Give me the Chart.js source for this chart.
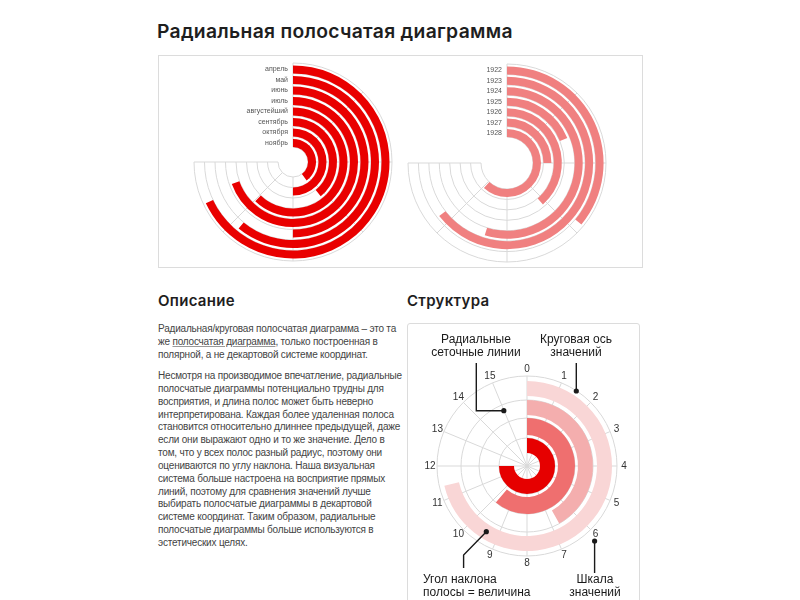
<!DOCTYPE html>
<html lang="ru">
<head>
<meta charset="utf-8">
<title>Радиальная полосчатая диаграмма</title>
<script src="https://cdn.jsdelivr.net/npm/chart.js@4.4.1/dist/chart.umd.min.js"></script>
<style>
  html, body { margin: 0; padding: 0; background: #fff; }
  body { position: relative; width: 800px; height: 600px; overflow: hidden;
         font-family: 'Liberation Sans', Arial, sans-serif; color: #444; }
  h1, h2 { position: absolute; margin: 0; font-family: Inter, 'Noto Sans', sans-serif;
           font-weight: 600; color: #1e1e1e; white-space: nowrap; }
  h1 { left: 157px; top: 18px; font-size: 19.3px; line-height: 26px; letter-spacing: .3px; }
  h2 { top: 292px; font-size: 15px; line-height: 18px; letter-spacing: .3px; }
  .panel { position: absolute; box-sizing: border-box; border: 1px solid #dcdcdc; }
  #topPanel { left: 158px; top: 55px; width: 485px; height: 213px; }
  #structPanel { left: 407px; top: 323px; width: 233px; height: 290px; border-radius: 3px; }
  canvas { position: absolute; }
  .txt { position: absolute; left: 158px; font-size: 10px; letter-spacing: -0.2px; line-height: 12.85px; white-space: nowrap; }
  .txt a { color: #444; text-decoration: underline; text-decoration-color: #999; }
  .note { position: absolute; font-size: 12px; line-height: 12.7px; color: #1a1a1a; white-space: nowrap; }
  .note.c { width: 140px; text-align: center; }
</style>
</head>
<body>
<h1>Радиальная полосчатая диаграмма</h1>
<div class="panel" id="topPanel"></div>
<canvas id="monthsChart" width="206" height="206" style="left:190px;top:59px"></canvas>
<canvas id="yearsChart" width="206" height="206" style="left:404px;top:60px"></canvas>

<h2 style="left:158px">Описание</h2>
<h2 style="left:407px">Структура</h2>

<div class="txt" style="top:323px">Радиальная/круговая полосчатая диаграмма – это та<br>же <a href="#">полосчатая диаграмма</a>, только построенная в<br>полярной, а не декартовой системе координат.</div>
<div class="txt" style="top:370px">Несмотря на производимое впечатление, радиальные<br>полосчатые диаграммы потенциально трудны для<br>восприятия, и длина полос может быть неверно<br>интерпретирована. Каждая более удаленная полоса<br>становится относительно длиннее предыдущей, даже<br>если они выражают одно и то же значение. Дело в<br>том, что у всех полос разный радиус, поэтому они<br>оцениваются по углу наклона. Наша визуальная<br>система больше настроена на восприятие прямых<br>линий, поэтому для сравнения значений лучше<br>выбирать полосчатые диаграммы в декартовой<br>системе координат. Таким образом, радиальные<br>полосчатые диаграммы больше используются в<br>эстетических целях.</div>

<div class="panel" id="structPanel"></div>
<canvas id="structChart" width="233" height="277" style="left:407px;top:323px"></canvas>
<div class="note c" style="left:406px;top:333px">Радиальные<br>сеточные линии</div>
<div class="note c" style="left:506px;top:333px">Круговая ось<br>значений</div>
<div class="note" style="left:423px;top:573px">Угол наклона<br>полосы = величина</div>
<div class="note c" style="left:525px;top:573px">Шкала<br>значений</div>

<script>
(function(){
    'use strict';

    // left chart: months, outer ring first, share of the 270° sweep
    const months = ['апрель', 'май', 'июнь', 'июль', 'августейший', 'сентябрь', 'октября', 'ноябрь'];
    const monthValues = [90.6, 81.2, 66.7, 92.7, 82.9, 52.2, 66.7, 53.2];

    // right chart: years, outer ring first
    const years = ['1922', '1923', '1924', '1925', '1926', '1927', '1928'];
    const yearValues = [48, 85.9, 73, 25, 51.5, 33.3, 82.5];
    const sweepMax = 100;

    // structure diagram: scale 0..15, rings from outer to inner
    const structTicks = ['0', '1', '2', '3', '4', '5', '6', '7', '8', '9', '10', '11', '12', '13', '14', '15'];
    const structValues = [11.4, 6.7, 9.8, 12];
    const structMax = 16;

    const COLORS = {
        red: '#e90000',
        coral: '#f08080',
        grid: '#d9d9d9',
        label: '#555',
        ink: '#1a1a1a',
        struct: ['#f9d6d6', '#f4aeae', '#ef6f6f', '#e60000']
    };
    const NONE = 'rgba(0,0,0,0)';

    function qs(id){ return document.getElementById(id); }

    function spacer(w){
        return { data: [1], backgroundColor: [NONE], weight: w, borderWidth: 0 };
    }

    // ring stack: optional outer spacer, then bar / gap / bar ...
    function buildRings(values, labels, max, colors, barW, gapW, outerGap){
        const sets = [];
        if(outerGap) sets.push(spacer(outerGap));
        values.forEach((v, i) => {
            if(i > 0) sets.push(spacer(Array.isArray(gapW) ? gapW[i - 1] : gapW));
            sets.push({
                label: labels ? labels[i] : '',
                isBar: true,
                data: [v, max - v],
                backgroundColor: [Array.isArray(colors) ? colors[i] : colors, NONE],
                weight: Array.isArray(barW) ? barW[i] : barW,
                borderWidth: 0
            });
        });
        return sets;
    }

    function geometry(chart){
        const first = chart.getDatasetMeta(0);
        const last = chart.getDatasetMeta(chart.data.datasets.length - 1);
        const bars = chart.data.datasets
            .map((d, i) => d.isBar ? { ds: d, ctl: chart.getDatasetMeta(i).controller } : null)
            .filter(Boolean);
        return {
            cx: first.data[0].x,
            cy: first.data[0].y,
            outer: first.controller.outerRadius,
            inner: last.controller.innerRadius,
            bars: bars
        };
    }

    function ang(deg){ return (deg - 90) * Math.PI / 180; }

    const ringGrid = {
        id: 'ringGrid',
        beforeDatasetsDraw(chart, args, o){
            const g = geometry(chart);
            const ctx = chart.ctx;
            const sweep = chart.options.circumference;
            let radii;
            if(o.edge === 'outer'){
                radii = g.bars.slice(1).map(b => b.ctl.outerRadius);
            } else {
                radii = g.bars.map(b => b.ctl.innerRadius);
            }
            radii.push(g.outer);
            ctx.save();
            ctx.strokeStyle = COLORS.grid;
            ctx.lineWidth = 1;
            radii.forEach(r => {
                ctx.beginPath();
                ctx.arc(g.cx, g.cy, r, ang(0), ang(sweep));
                ctx.stroke();
            });
            const r0 = o.spokesFromCenter ? 0 : g.inner;
            for(let a = 0; a <= sweep - (sweep === 360 ? o.step : 0) + 0.01; a += o.step){
                ctx.beginPath();
                ctx.moveTo(g.cx + r0 * Math.cos(ang(a)), g.cy + r0 * Math.sin(ang(a)));
                ctx.lineTo(g.cx + g.outer * Math.cos(ang(a)), g.cy + g.outer * Math.sin(ang(a)));
                ctx.stroke();
            }
            ctx.restore();
        },
        afterDatasetsDraw(chart, args, o){
            const g = geometry(chart);
            const ctx = chart.ctx;
            ctx.save();
            if(o.ringLabels){
                ctx.font = '7px "Liberation Sans", Arial, sans-serif';
                ctx.fillStyle = COLORS.label;
                ctx.textAlign = 'right';
                ctx.textBaseline = 'middle';
                g.bars.forEach(b => {
                    const mid = (b.ctl.innerRadius + b.ctl.outerRadius) / 2;
                    ctx.fillText(b.ds.label, g.cx - 5, g.cy - mid);
                });
            }
            if(o.ticks){
                ctx.font = '10px "Liberation Sans", Arial, sans-serif';
                ctx.fillStyle = '#333';
                ctx.textAlign = 'center';
                ctx.textBaseline = 'middle';
                o.ticks.forEach((t, k) => {
                    const a = ang(k * 360 / o.ticks.length);
                    const r = g.outer + 7;
                    ctx.fillText(t, g.cx + r * Math.cos(a), g.cy + r * Math.sin(a));
                });
            }
            ctx.restore();
        }
    };

    // callout lines of the structure diagram, offsets from the centre, dot at the end
    const leaders = {
        id: 'leaders',
        afterDraw(chart, args, o){
            if(!o.paths) return;
            const g = geometry(chart);
            const ctx = chart.ctx;
            ctx.save();
            ctx.strokeStyle = COLORS.ink;
            ctx.fillStyle = COLORS.ink;
            ctx.lineWidth = 1.4;
            o.paths.forEach(p => {
                ctx.beginPath();
                p.forEach((pt, i) => {
                    const x = g.cx + pt[0], y = g.cy + pt[1];
                    if(i === 0) ctx.moveTo(x, y); else ctx.lineTo(x, y);
                });
                ctx.stroke();
                const dot = p[p.length - 1];
                ctx.beginPath();
                ctx.arc(g.cx + dot[0], g.cy + dot[1], 2.6, 0, Math.PI * 2);
                ctx.fill();
            });
            ctx.restore();
        }
    };

    function radialChart(canvas, datasets, sweep, cutout, padding, pluginOpts){
        return new Chart(canvas.getContext('2d'), {
            type: 'doughnut',
            data: { labels: ['value', 'rest'], datasets: datasets },
            options: {
                responsive: false,
                animation: false,
                events: [],
                rotation: 0,
                circumference: sweep,
                cutout: cutout,
                layout: { padding: padding },
                elements: { arc: { borderWidth: 0, hoverBorderWidth: 0, offset: 0, hoverOffset: 0 } },
                plugins: {
                    legend: { display: false },
                    tooltip: { enabled: false },
                    ringGrid: pluginOpts.grid,
                    leaders: pluginOpts.leaders || {}
                }
            },
            plugins: [ringGrid, leaders]
        });
    }

    function initialize(){
        radialChart(qs('monthsChart'),
            buildRings(monthValues, months, sweepMax, COLORS.red, 8, 2.5, 2.5),
            270, 15, 4,
            { grid: { edge: 'inner', step: 45, ringLabels: true } });

        radialChart(qs('yearsChart'),
            buildRings(yearValues, years, sweepMax, COLORS.coral, 8, 73 / 7 - 8, 73 / 7 - 8),
            270, 26, 4,
            { grid: { edge: 'inner', step: 45, ringLabels: true } });

        const l1 = [[-50.7, -103], [-50.7, -55.3], [-23.2, -55.3]];
        const l2 = [[49.3, -103], [49.3, -75]];
        const l3 = [[-63.4, 102], [-63.4, 89], [-40.7, 65.7]];
        const l4 = [[67.6, 107], [67.6, 75]];

        radialChart(qs('structChart'),
            buildRings(structValues, null, structMax, COLORS.struct, [15, 15, 17, 15], [4, 3, 3], 5),
            360, 13, { left: 30, right: 23, top: 53, bottom: 44 },
            {
                grid: { edge: 'outer', step: 22.5, spokesFromCenter: true, ticks: structTicks },
                leaders: { paths: [l1, l2, l3, l4] }
            });
    }

    document.addEventListener('DOMContentLoaded', initialize);
})();
</script>
</body>
</html>
